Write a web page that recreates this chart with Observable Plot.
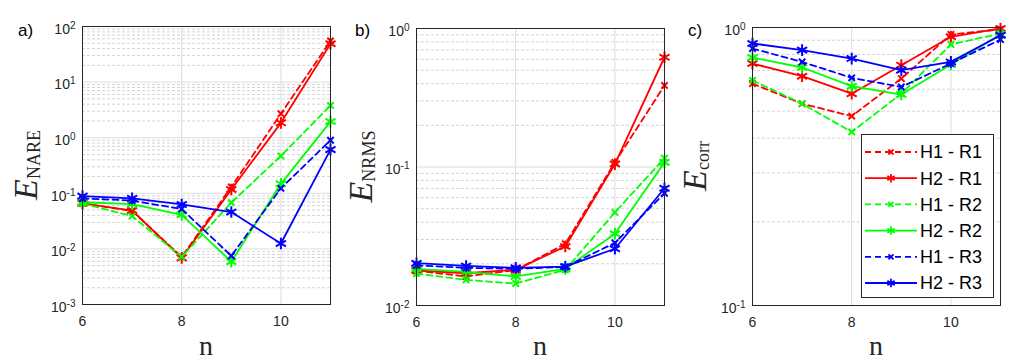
<!DOCTYPE html>
<html><head><meta charset="utf-8">
<script src="https://cdn.jsdelivr.net/npm/d3@7"></script>
<script src="https://cdn.jsdelivr.net/npm/@observablehq/plot@0.6"></script>
<style>
body{margin:0;background:#fff;}
#wrap{position:relative;width:1016px;height:362px;overflow:hidden;}
#wrap svg{position:absolute;top:0;}
</style></head><body><div id="wrap"></div>
<script>
// ---- data ----
const nValues = [6, 7, 8, 9, 10, 11];
const xTickValues = [6, 8, 10];
const seriesNames = ["H1 - R1", "H2 - R1", "H1 - R2", "H2 - R2", "H1 - R3", "H2 - R3"];
const seriesColors = ["#ff0000", "#ff0000", "#00ff00", "#00ff00", "#0000ff", "#0000ff"];
const seriesDashed = [true, false, true, false, true, false];

// panel a) E_NARE
const nare_H1R1 = [0.066, 0.048, 0.0072, 0.13, 2.7, 55];
const nare_H2R1 = [0.066, 0.049, 0.0069, 0.117, 1.85, 49];
const nare_H1R2 = [0.066, 0.039, 0.0072, 0.068, 0.47, 3.8];
const nare_H2R2 = [0.069, 0.064, 0.041, 0.0059, 0.148, 1.95];
const nare_H1R3 = [0.081, 0.074, 0.052, 0.0075, 0.123, 0.9];
const nare_H2R3 = [0.089, 0.081, 0.063, 0.046, 0.0125, 0.61];
const nareTicks = [1e-3, 1e-2, 1e-1, 1e0, 1e1, 1e2];

// panel b) E_NRMS
const nrms_H1R1 = [0.0178, 0.0162, 0.018, 0.0279, 0.108, 0.388];
const nrms_H2R1 = [0.0179, 0.0171, 0.0181, 0.0267, 0.105, 0.62];
const nrms_H1R2 = [0.017, 0.0153, 0.0144, 0.0181, 0.047, 0.116];
const nrms_H2R2 = [0.0184, 0.0175, 0.0162, 0.0184, 0.033, 0.108];
const nrms_H1R3 = [0.0195, 0.0187, 0.0184, 0.019, 0.0283, 0.0646];
const nrms_H2R3 = [0.0202, 0.0193, 0.0187, 0.0191, 0.0257, 0.0703];
const nrmsTicks = [1e-2, 1e-1, 1e0];

// panel c) E_corr
const corr_H1R1 = [0.628, 0.532, 0.48, 0.655, 0.944, 0.984];
const corr_H2R1 = [0.742, 0.668, 0.578, 0.732, 0.926, 0.992];
const corr_H1R2 = [0.645, 0.532, 0.421, 0.578, 0.869, 0.951];
const corr_H2R2 = [0.78, 0.718, 0.615, 0.574, 0.736, 0.944];
const corr_H1R3 = [0.84, 0.752, 0.659, 0.611, 0.742, 0.905];
const corr_H2R3 = [0.876, 0.829, 0.773, 0.702, 0.752, 0.938];
const corrTicks = [1e-1, 1e0];

// ---- build ----
const INK = "#262626";
const SANS = "'Liberation Sans', Arial, sans-serif";
const SERIF = "'Liberation Serif', 'DejaVu Serif', serif";
const wrap = document.getElementById("wrap");

function rowsOf(arrs) {
  return arrs.map((vals, i) => vals.map((v, j) => ({series: seriesNames[i], n: nValues[j], v})));
}

function isMajor(v) { const l = Math.log10(v); return Math.abs(l - Math.round(l)) < 1e-6; }

function makePanel(cfg) {
  const series = rowsOf(cfg.arrays);
  const minors = d3.scaleLog().domain(cfg.domain).ticks().filter(v => !isMajor(v));
  const marks = [
    Plot.ruleY(minors, {stroke: "#d4d4d4", strokeDasharray: "3,2", strokeWidth: 1}),
    Plot.ruleY(cfg.majors, {stroke: "#dcdcdc", strokeWidth: 1}),
    Plot.ruleX(xTickValues, {stroke: "#dcdcdc", strokeWidth: 1}),
    Plot.axisY({ticks: cfg.majors, tickSize: 0, tickPadding: 7, fontSize: 14,
      tickFormat: d => "10^" + Math.round(Math.log10(d)), label: null}),
    Plot.axisX({ticks: xTickValues, tickSize: 0, tickPadding: 12, fontSize: 14,
      tickFormat: d => String(d), label: null}),
  ];
  series.forEach((rows, i) => {
    const dashed = seriesDashed[i];
    marks.push(Plot.line(rows, {x: "n", y: "v", stroke: seriesColors[i], strokeWidth: 1.8,
      strokeDasharray: dashed ? "6,4" : null}));
    marks.push(Plot.dot(rows, {x: "n", y: "v", symbol: dashed ? "times" : "asterisk",
      r: dashed ? 3 : 5.5, stroke: seriesColors[i], strokeWidth: 2}));
  });
  marks.push(Plot.frame({stroke: INK, strokeWidth: 1}));

  const svg = Plot.plot({
    width: cfg.width, height: 362,
    marginLeft: cfg.ml, marginRight: cfg.mr, marginTop: cfg.mt, marginBottom: cfg.mb,
    style: {background: "none", fontFamily: SANS, fontSize: "14px", color: INK},
    x: {domain: [6, 11]},
    y: {type: "log", domain: cfg.domain},
    marks
  });
  svg.style.left = cfg.left + "px";
  const s = d3.select(svg);

  // tick label font
  s.selectAll('g[aria-label="y-axis tick label"], g[aria-label="x-axis tick label"]')
    .attr("font-size", 14).style("font-size", "14px").style("font-family", SANS).attr("fill", INK);

  // superscript exponents
  s.selectAll('g[aria-label="y-axis tick label"] text').each(function () {
    const t = d3.select(this);
    const parts = t.text().split("^");
    if (parts.length === 2) {
      t.text(parts[0]);
      t.attr("y", "0.52em");
      t.append("tspan").attr("dy", "-0.5em").style("font-size", "10px").text(parts[1]);
    }
  });

  const plotCx = cfg.ml + (cfg.width - cfg.ml - cfg.mr) / 2;
  const plotCy = cfg.mt + (362 - cfg.mt - cfg.mb) / 2;

  // y label
  const yl = s.append("text")
    .attr("transform", `translate(${cfg.labelX},${plotCy}) rotate(-90)`)
    .attr("text-anchor", "middle")
    .style("font-family", SERIF)
    .attr("fill", INK);
  yl.append("tspan").style("font-style", "italic").style("font-size", "34px").text("E");
  yl.append("tspan").style("font-size", "18px").attr("dy", 3).text(cfg.sub);

  // x label
  s.append("text").attr("x", plotCx).attr("y", 355).attr("text-anchor", "middle")
    .style("font-family", SERIF).style("font-size", "28px")
    .attr("fill", INK).text("n");

  // panel letter
  s.append("text").attr("x", cfg.letterX).attr("y", 36).attr("text-anchor", "start")
    .style("font-family", SANS).style("font-size", "17px")
    .attr("fill", "#000").text(cfg.letter);

  wrap.appendChild(svg);
  return s;
}

makePanel({arrays: [nare_H1R1, nare_H2R1, nare_H1R2, nare_H2R2, nare_H1R3, nare_H2R3],
  domain: [1e-3, 1e2], majors: nareTicks, sub: "NARE", letter: "a)",
  left: 0, width: 336, ml: 82, mr: 6, mt: 26, mb: 58, labelX: 37, letterX: 18});

makePanel({arrays: [nrms_H1R1, nrms_H2R1, nrms_H1R2, nrms_H2R2, nrms_H1R3, nrms_H2R3],
  domain: [1e-2, 1e0], majors: nrmsTicks, sub: "NRMS", letter: "b)",
  left: 336, width: 334, ml: 80, mr: 6, mt: 28, mb: 57, labelX: 36, letterX: 19});

const pc = makePanel({arrays: [corr_H1R1, corr_H2R1, corr_H1R2, corr_H2R2, corr_H1R3, corr_H2R3],
  domain: [1e-1, 1e0], majors: corrTicks, sub: "corr", letter: "c)",
  left: 670, width: 346, ml: 82, mr: 16, mt: 27, mb: 57, labelX: 36, letterX: 18});

// legend (inside panel c)
const lg = pc.append("g").attr("class", "legend");
lg.append("rect").attr("x", 191.5).attr("y", 134.5).attr("width", 132).attr("height", 163)
  .attr("fill", "#fff").attr("stroke", INK).attr("stroke-width", 1);
seriesNames.forEach((name, i) => {
  const y = 152 + i * 26.2;
  const g = lg.append("g");
  g.append("line").attr("x1", 195).attr("x2", 247).attr("y1", y).attr("y2", y)
    .attr("stroke", seriesColors[i]).attr("stroke-width", 1.8)
    .attr("stroke-dasharray", seriesDashed[i] ? "6,4" : null);
  const sym = d3.symbol(seriesDashed[i] ? d3.symbolTimes : d3.symbolAsterisk,
    seriesDashed[i] ? Math.PI * 2.4 * 2.4 : Math.PI * 4 * 4);
  g.append("path").attr("d", sym()).attr("transform", `translate(221,${y})`)
    .attr("fill", "none").attr("stroke", seriesColors[i]).attr("stroke-width", 1.8);
  g.append("text").attr("x", 250).attr("y", y).attr("dy", "0.36em").attr("text-anchor", "start")
    .style("font-family", SANS).style("font-size", "18px")
    .attr("fill", "#000").text(name);
});
</script></body></html>
